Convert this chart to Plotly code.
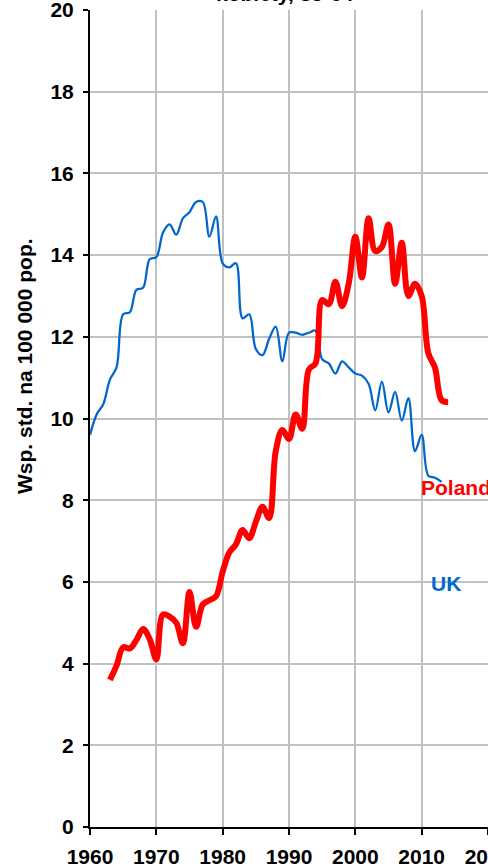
import plotly.graph_objects as go

uk_years = list(range(1960, 2014))
uk_values = [9.6, 10.1, 10.35, 10.95, 11.25, 12.55, 12.6, 13.15, 13.2, 13.9,
             13.95, 14.55, 14.75, 14.5, 14.9, 15.05, 15.3, 15.3, 14.45, 14.95,
             13.8, 13.7, 13.8, 12.45, 12.55, 11.7, 11.55, 11.95, 12.25, 11.4,
             12.1, 12.1, 12.05, 12.1, 12.15, 11.45, 11.35, 11.1, 11.4, 11.25,
             11.1, 11.05, 10.85, 10.2, 10.9, 10.15, 10.65, 9.95, 10.5, 9.2,
             9.6, 8.6, 8.55, 8.45]

pl_years = list(range(1963, 2015))
pl_values = [3.6, 3.95, 4.4, 4.37, 4.58, 4.85, 4.6, 4.1, 5.2, 5.15,
             5.0, 4.5, 5.75, 4.9, 5.45, 5.55, 5.65, 6.25, 6.72, 6.92,
             7.27, 7.07, 7.47, 7.84, 7.56, 9.2, 9.72, 9.5, 10.1, 9.75,
             11.2, 11.35, 12.9, 12.8, 13.35, 12.75, 13.3, 14.45, 13.45, 14.9,
             14.1, 14.2, 14.75, 13.3, 14.3, 13.0, 13.3, 13.0, 11.6, 11.25,
             10.45, 10.4]

x_ticks = [1960, 1970, 1980, 1990, 2000, 2010, 2020]
y_ticks = [0, 2, 4, 6, 8, 10, 12, 14, 16, 18, 20]

FONT = "Liberation Sans, Arial, sans-serif"
BLUE = "#0066CC"
RED = "#FF0000"

W, H = 488, 867
ML, MR, MT, MB = 90, 0, 10, 40
PW, PH = W - ML - MR, H - MT - MB

fig = go.Figure()
fig.add_trace(go.Scatter(x=uk_years, y=uk_values, mode="lines", name="UK",
                         line=dict(color=BLUE, width=2.25, shape="spline", smoothing=1)))
fig.add_trace(go.Scatter(x=pl_years, y=pl_values, mode="lines", name="Poland",
                         line=dict(color=RED, width=6, shape="spline", smoothing=1)))

def px_x(p):
    return (p - ML) / PW

def px_y(p):
    return (H - MB - p) / PH

annos = [
    dict(text="Wsp. std. na 100 000 pop.", xref="paper", yref="paper",
         x=px_x(24), y=px_y(366), textangle=-90, showarrow=False,
         xanchor="center", yanchor="middle",
         font=dict(family=FONT, size=21, color="black", weight="bold")),
    dict(text="kobiety, 35-64", xref="paper", yref="paper",
         x=px_x(285), y=px_y(-6.5), showarrow=False,
         xanchor="center", yanchor="middle",
         font=dict(family=FONT, size=21, color="black", weight="bold")),
    dict(text="Poland", xref="paper", yref="paper",
         x=px_x(419), y=px_y(487), showarrow=False,
         xanchor="left", yanchor="middle",
         font=dict(family=FONT, size=21, color=RED, weight="bold")),
    dict(text="UK", xref="paper", yref="paper",
         x=px_x(429), y=px_y(583), showarrow=False,
         xanchor="left", yanchor="middle",
         font=dict(family=FONT, size=21, color=BLUE, weight="bold")),
]

fig.update_layout(
    width=W, height=H,
    margin=dict(l=ML, r=MR, t=MT, b=MB, pad=0, autoexpand=False),
    paper_bgcolor="white", plot_bgcolor="white",
    showlegend=False,
    annotations=annos,
    xaxis=dict(range=[1960, 2020], tickvals=x_ticks, ticktext=[str(v) for v in x_ticks],
               showgrid=True, gridcolor="#C0C0C0", gridwidth=1.5,
               showline=True, linecolor="black", linewidth=2,
               ticks="outside", ticklen=6, tickwidth=2, tickcolor="black",
               ticklabeloverflow="allow", zeroline=False, automargin=False,
               ticklabelstandoff=4,
               tickfont=dict(family=FONT, size=21, color="black", weight="bold")),
    yaxis=dict(range=[0, 20], tickvals=y_ticks, ticktext=[str(v) for v in y_ticks],
               showgrid=True, gridcolor="#C0C0C0", gridwidth=1.5,
               showline=True, linecolor="black", linewidth=2,
               ticks="outside", ticklen=5, tickwidth=2, tickcolor="black",
               ticklabeloverflow="allow", zeroline=False, automargin=False,
               ticklabelstandoff=5,
               tickfont=dict(family=FONT, size=21, color="black", weight="bold")),
)

fig.write_html("out.html", config={"displayModeBar": False},
               post_script="document.body.style.margin='0';document.body.style.overflow='hidden';")
